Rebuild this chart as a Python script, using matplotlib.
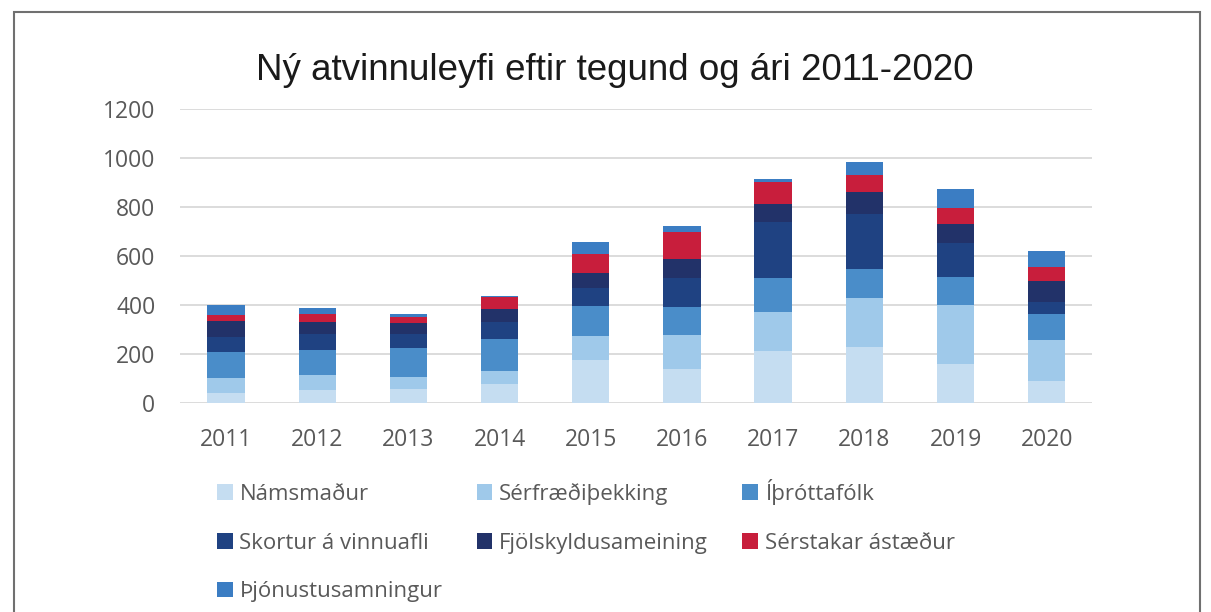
"""
Ný atvinnuleyfi eftir tegund og ári 2011-2020 - stacked bar chart
"""
import numpy as np
import matplotlib
matplotlib.use('Agg')
import matplotlib.pyplot as plt
from matplotlib.patches import Rectangle

years = ['2011', '2012', '2013', '2014', '2015', '2016', '2017', '2018', '2019', '2020']

namsmadur = [41, 52, 56, 79, 174, 138, 214, 229, 160, 88]
serfraedi = [61, 61, 49, 53, 101, 140, 159, 199, 241, 168]
ithrottafolk = [107, 102, 118, 129, 122, 115, 138, 118, 114, 107]
skortur = [60, 65, 57, 69, 74, 118, 228, 226, 137, 49]
fjolskyldu = [66, 50, 45, 54, 59, 76, 73, 89, 80, 87]
serstakar = [24, 33, 25, 48, 80, 111, 88, 69, 65, 54]
thjonustu = [39, 25, 14, 6, 45, 23, 15, 53, 75, 69]

series = [
    ('Námsmaður', namsmadur, '#c5ddf1'),
    ('Sérfræðiþekking', serfraedi, '#9fc9ea'),
    ('Íþróttafólk', ithrottafolk, '#4a8dc9'),
    ('Skortur á vinnuafli', skortur, '#1f4282'),
    ('Fjölskyldusameining', fjolskyldu, '#223269'),
    ('Sérstakar ástæður', serstakar, '#c81e3c'),
    ('Þjónustusamningur', thjonustu, '#3b7dc3'),
]

fig = plt.figure(figsize=(12.11, 6.12), dpi=100)
ax = fig.add_axes([0.149, 0.3415, 0.753, 0.4805])

ind = np.arange(len(years))
bottom = np.zeros(len(years))
bars = {}
for name, vals, col in series:
    bars[name] = ax.bar(ind, vals, 0.41, bottom=bottom, color=col, label=name, zorder=3)
    bottom += np.array(vals)

ax.set_xlim(-0.5, len(years) - 0.5)
ax.set_ylim(0, 1200)
ax.set_yticks(range(0, 1201, 200))
ax.set_xticks(ind)
ax.set_xticklabels(years)
ax.yaxis.grid(True, color='#d9d9d9', linewidth=1.3, zorder=0)
ax.tick_params(length=0, labelsize=16.5, labelcolor='#595959')
ax.tick_params(axis='y', pad=18)
ax.tick_params(axis='x', pad=18)
for lab in ax.get_xticklabels() + ax.get_yticklabels():
    lab.set_family('Open Sans')
for s in ax.spines.values():
    s.set_visible(False)

fig.text(0.508, 0.885, 'Ný atvinnuleyfi eftir tegund og ári 2011-2020',
         ha='center', va='center', fontsize=26.5, family='Liberation Sans', color='#1a1a1a')

# legend filled column-wise, so reorder to read row by row
order = ['Námsmaður', 'Skortur á vinnuafli', 'Þjónustusamningur',
         'Sérfræðiþekking', 'Fjölskyldusameining',
         'Íþróttafólk', 'Sérstakar ástæður']
leg = fig.legend([bars[n] for n in order], order, loc='upper left',
                 bbox_to_anchor=(0.172, 0.232), ncol=3, frameon=False,
                 prop={'family': 'Open Sans', 'size': 16},
                 handlelength=0.7, handleheight=0.7, handletextpad=0.3,
                 columnspacing=1.55, labelspacing=1.25, borderaxespad=0)
for t in leg.get_texts():
    t.set_color('#595959')

# outer frame of the original picture
fig.patches.append(Rectangle((0.0116, -0.1), 0.979, 1.08, transform=fig.transFigure,
                             fill=False, edgecolor='#707070', linewidth=1.5))

fig.savefig('out.png', dpi=100)
plt.close(fig)
